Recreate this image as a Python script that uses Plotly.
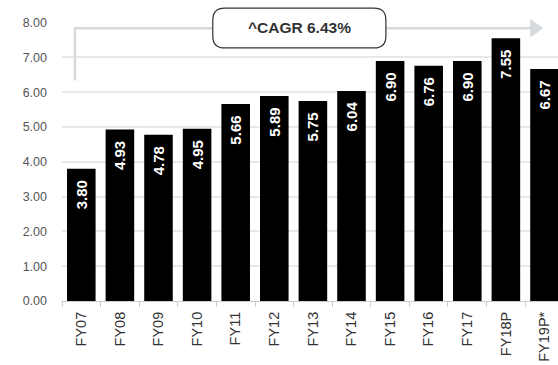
import plotly.graph_objects as go

# Fiscal years and values
years = ["FY07", "FY08", "FY09", "FY10", "FY11", "FY12", "FY13",
         "FY14", "FY15", "FY16", "FY17", "FY18P", "FY19P*"]
values = [3.80, 4.93, 4.78, 4.95, 5.66, 5.89, 5.75,
          6.04, 6.90, 6.76, 6.90, 7.55, 6.67]
y_ticks = [0, 1, 2, 3, 4, 5, 6, 7, 8]
cagr_label = "^CAGR 6.43%"

FONT = "Liberation Sans, Arial, sans-serif"
GRID = "#e8e8e8"
ARROW = "#d6dadf"

fig = go.Figure(
    go.Bar(
        x=years,
        y=values,
        marker=dict(color="#000000", line=dict(width=0)),
        # trailing no-break spaces keep the label a little below the bar top
        text=[f"{v:.2f}\u00a0\u00a0" for v in values],
        textposition="inside",
        insidetextanchor="end",
        textangle=-90,
        constraintext="none",
        textfont=dict(family=FONT, size=15, color="white", weight="bold"),
        cliponaxis=True,
        hoverinfo="skip",
    )
)

# Paper coordinates for the CAGR bracket and label box
x_left, y_top, y_start = 0.026, 0.978, 0.79
x_end = 0.945
box_x0, box_x1, box_y0, box_y1 = 0.304, 0.653, 0.907, 1.05
rx, ry = 0.024, 0.043

shapes = [
    # bracket line running from the first bar to the right edge
    dict(type="path", xref="paper", yref="paper",
         path=f"M {x_left},{y_start} L {x_left},{y_top} L {x_end},{y_top}",
         line=dict(color=ARROW, width=2.5), layer="above"),
    # arrow head
    dict(type="path", xref="paper", yref="paper",
         path=f"M {x_end},{y_top + 0.03} L {x_end + 0.024},{y_top} "
              f"L {x_end},{y_top - 0.03} Z",
         fillcolor=ARROW, line=dict(color=ARROW, width=1), layer="above"),
    # rounded label box
    dict(type="path", xref="paper", yref="paper",
         path=(f"M {box_x0 + rx},{box_y0} L {box_x1 - rx},{box_y0} "
               f"Q {box_x1},{box_y0} {box_x1},{box_y0 + ry} "
               f"L {box_x1},{box_y1 - ry} "
               f"Q {box_x1},{box_y1} {box_x1 - rx},{box_y1} "
               f"L {box_x0 + rx},{box_y1} "
               f"Q {box_x0},{box_y1} {box_x0},{box_y1 - ry} "
               f"L {box_x0},{box_y0 + ry} "
               f"Q {box_x0},{box_y0} {box_x0 + rx},{box_y0} Z"),
         fillcolor="white", line=dict(color="#333333", width=1.2), layer="above"),
]

fig.update_layout(
    width=558, height=365,
    margin=dict(l=62, r=0, t=22, b=64),
    paper_bgcolor="white", plot_bgcolor="white",
    bargap=0.26,
    showlegend=False,
    shapes=shapes,
    annotations=[dict(
        xref="paper", yref="paper",
        x=(box_x0 + box_x1) / 2, y=(box_y0 + box_y1) / 2,
        text=f"<b>{cagr_label}</b>", showarrow=False,
        font=dict(family=FONT, size=15.5, color="#333333"),
        xanchor="center", yanchor="middle",
    )],
    font=dict(family=FONT, size=14, color="#444444"),
    xaxis=dict(
        type="category",
        range=[-0.5, 12.35],
        tickangle=-90,
        tickson="boundaries",
        ticks="outside", ticklen=5, tickcolor="#cccccc",
        showline=True, linecolor="#cccccc", linewidth=1,
        showgrid=False,
        ticklabelstandoff=4,
        tickfont=dict(family=FONT, size=14.5, color="#333333"),
    ),
    yaxis=dict(
        range=[0, 8.02],
        tickvals=y_ticks,
        tickformat=".2f",
        showgrid=True, gridcolor=GRID, gridwidth=1.5,
        zeroline=False,
        ticks="", ticklabelstandoff=14,
        tickfont=dict(family=FONT, size=12.5, color="#555555"),
    ),
)

fig.write_html("out.html")
